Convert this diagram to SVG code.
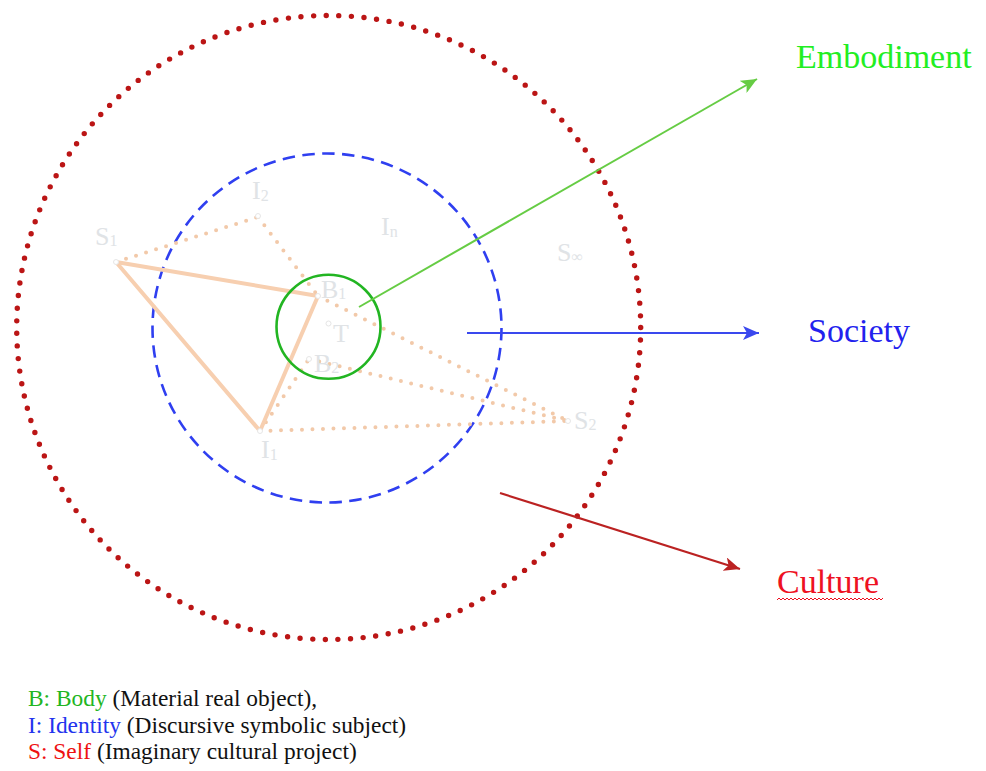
<svg xmlns="http://www.w3.org/2000/svg" width="986" height="771" viewBox="0 0 986 771">
<style>
.big{font-family:"Liberation Serif","Times New Roman",serif;font-size:34px}
.leg{font-family:"Liberation Serif","Times New Roman",serif;font-size:23.4px;fill:#111}
.faint{font-family:"Liberation Serif","Times New Roman",serif;font-size:26px;fill:#e0e3e6}
.sub{font-size:16px}
.solid{stroke:#f7cfb0;stroke-width:4;fill:none;stroke-linecap:round}
.dotted{stroke:#f2c9a9;stroke-width:4;fill:none;stroke-linecap:round;stroke-dasharray:0 10.5}
.pt{fill:#fff;stroke:#e6e6e6;stroke-width:1}
</style>
<defs>
<marker id="ag" markerUnits="userSpaceOnUse" markerWidth="18" markerHeight="14" refX="16" refY="7" orient="auto"><path d="M0,0 L16,7 L0,14 L4,7 Z" fill="#66cc44"/></marker>
<marker id="ab" markerUnits="userSpaceOnUse" markerWidth="18" markerHeight="14" refX="16" refY="7" orient="auto"><path d="M0,0 L16,7 L0,14 L4,7 Z" fill="#3a48ee"/></marker>
<marker id="ar" markerUnits="userSpaceOnUse" markerWidth="18" markerHeight="14" refX="16" refY="7" orient="auto"><path d="M0,0 L16,7 L0,14 L4,7 Z" fill="#bb2222"/></marker>
</defs>
<rect width="986" height="771" fill="#fff"/>

<g id="self-circle">
<circle cx="328.7" cy="327.5" r="312" fill="none" stroke="#bb1515" stroke-width="5.4" stroke-linecap="round" stroke-dasharray="0 12.648"/>
</g>
<g id="identity-circle">
<circle cx="327" cy="328" r="174.5" fill="none" stroke="#2f3ff0" stroke-width="2.6" stroke-dasharray="12.5 7.43"/>
</g>

<g id="triangles">
<line class="dotted" x1="116" y1="262" x2="258" y2="217"/>
<line class="dotted" x1="258" y1="217" x2="318" y2="296"/>
<line class="dotted" x1="318" y1="296" x2="568" y2="421"/>
<line class="dotted" x1="309" y1="359" x2="568" y2="421"/>
<line class="dotted" x1="260" y1="431" x2="568" y2="421"/>
<line class="dotted" x1="260" y1="431" x2="309" y2="359"/>
<line class="solid" x1="116" y1="262" x2="318" y2="296"/>
<line class="solid" x1="116" y1="262" x2="260" y2="431"/>
<line class="solid" x1="260" y1="431" x2="318" y2="296"/>
</g>

<g id="body-circle">
<circle cx="328.5" cy="326.8" r="52" fill="none" stroke="#22b522" stroke-width="2.6"/>
</g>

<g id="points">
<g id="S1"><circle class="pt" cx="116" cy="262" r="2.5"/><text class="faint" x="95" y="245">S<tspan class="sub" dy="1">1</tspan></text></g>
<g id="I2"><circle class="pt" cx="258" cy="216" r="2.5"/><text class="faint" x="252" y="199">I<tspan class="sub" dy="2">2</tspan></text></g>
<g id="In"><text class="faint" x="381" y="235">I<tspan class="sub" dy="2">n</tspan></text></g>
<g id="Sinf"><text class="faint" x="557" y="261">S<tspan class="sub" dy="1">∞</tspan></text></g>
<g id="B1"><circle class="pt" cx="318" cy="296" r="2.5"/><text class="faint" x="321" y="298">B<tspan class="sub" dy="1">1</tspan></text></g>
<g id="T"><circle class="pt" cx="328.5" cy="323.5" r="2.5"/><text class="faint" x="333" y="342">T</text></g>
<g id="B2"><circle class="pt" cx="309" cy="359" r="2.5"/><text class="faint" x="314" y="372">B<tspan class="sub" dy="1">2</tspan></text></g>
<g id="S2"><circle class="pt" cx="568" cy="421" r="2.5"/><text class="faint" x="574" y="429">S<tspan class="sub" dy="1">2</tspan></text></g>
<g id="I1"><circle class="pt" cx="260" cy="431" r="2.5"/><text class="faint" x="261" y="458">I<tspan class="sub" dy="2">1</tspan></text></g>
</g>

<g id="connectors">
<line x1="359" y1="307" x2="757" y2="79" stroke="#66cc44" stroke-width="2" marker-end="url(#ag)"/>
<line x1="467" y1="333" x2="759" y2="333" stroke="#3a48ee" stroke-width="2" marker-end="url(#ab)"/>
<line x1="500" y1="493" x2="740" y2="569" stroke="#bb2222" stroke-width="2.2" marker-end="url(#ar)"/>
</g>

<g id="Embodiment"><text class="big" x="796" y="68" fill="#22ee22">Embodiment</text></g>
<g id="Society"><text class="big" x="808" y="342" fill="#2222ee">Society</text></g>
<g id="Culture"><text class="big" x="777" y="593" fill="#ee1122">Culture</text>
<path d="M777,600 l2,-2 l2,2 l2,-2 l2,2 l2,-2 l2,2 l2,-2 l2,2 l2,-2 l2,2 l2,-2 l2,2 l2,-2 l2,2 l2,-2 l2,2 l2,-2 l2,2 l2,-2 l2,2 l2,-2 l2,2 l2,-2 l2,2 l2,-2 l2,2 l2,-2 l2,2 l2,-2 l2,2 l2,-2 l2,2 l2,-2 l2,2 l2,-2 l2,2 l2,-2 l2,2 l2,-2 l2,2 l2,-2 l2,2 l2,-2 l2,2 l2,-2 l2,2 l2,-2 l2,2 l2,-2 l2,2 l2,-2 l2,2 l2,-2" fill="none" stroke="#ee1122" stroke-width="1"/>
</g>

<g id="legend">
<text class="leg" x="28" y="706"><tspan fill="#22b522">B: Body</tspan> (Material real object),</text>
<text class="leg" x="28" y="733"><tspan fill="#2233ee">I: Identity</tspan> (Discursive symbolic subject)</text>
<text class="leg" x="28" y="759"><tspan fill="#ee1111">S: Self</tspan> (Imaginary cultural project)</text>
</g>
</svg>
